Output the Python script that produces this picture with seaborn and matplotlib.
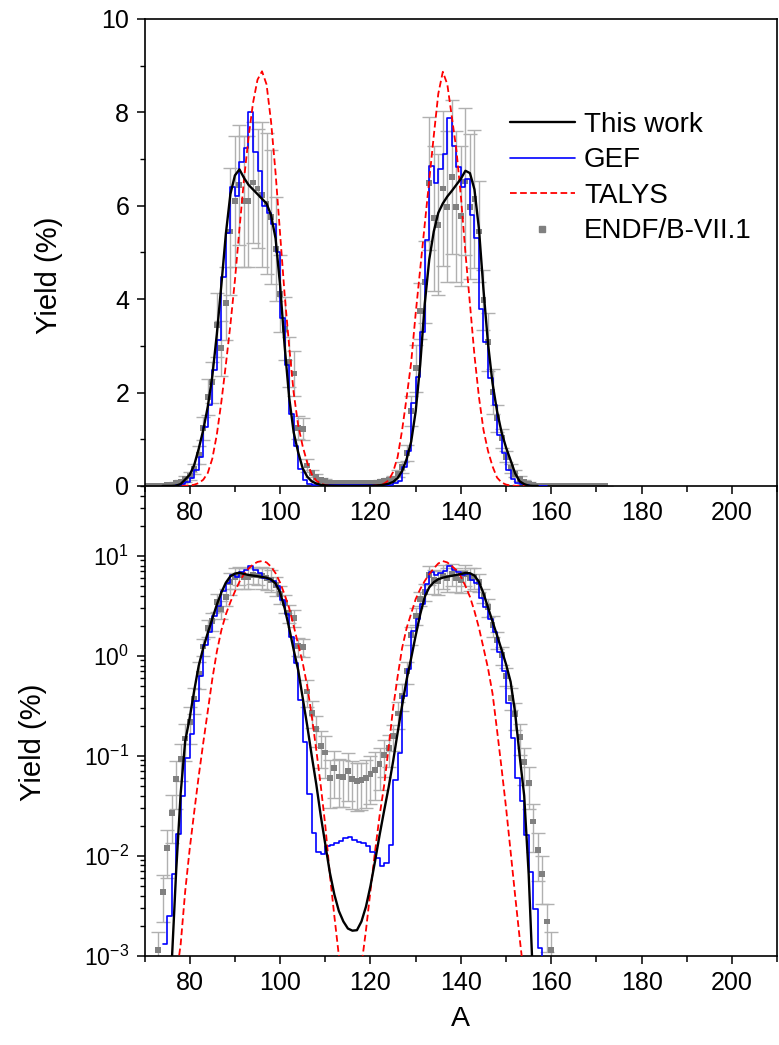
import numpy as np
import pandas as pd
import matplotlib
matplotlib.use("Agg")
import matplotlib.pyplot as plt
import seaborn as sns
from matplotlib.ticker import MultipleLocator, LogLocator, NullFormatter, FixedLocator
from matplotlib.lines import Line2D

# ---------------- data ----------------
# This work (smooth curve)
tw_A = list(range(74, 158))
tw_Y = [0.00005, 0.0002, 0.0008, 0.007, 0.042, 0.14, 0.24, 0.45, 0.8, 1.2,
        1.7, 2.35, 3.25, 4.3, 5.4, 6.25, 6.65, 6.78, 6.6, 6.45,
        6.35, 6.25, 6.15, 6.05, 5.8, 5.3, 4.3, 3.0, 1.9, 1.15,
        0.72, 0.38, 0.2, 0.1, 0.052, 0.025, 0.013, 0.0068, 0.0041, 0.0028,
        0.0022, 0.00187, 0.00178, 0.0018, 0.0022, 0.0031, 0.005, 0.0088, 0.016, 0.028,
        0.048, 0.088, 0.17, 0.32, 0.58, 0.95, 1.6, 2.6, 3.9, 4.85,
        5.45, 5.85, 6.05, 6.2, 6.32, 6.45, 6.58, 6.75, 6.7, 6.35,
        5.5, 4.2, 3.05, 2.2, 1.6, 1.15, 0.82, 0.55, 0.27, 0.1,
        0.04, 0.0065, 0.0005, 0.00005]

# GEF (histogram, bin start A)
gef_A = list(range(74, 160))
gef_Y = [0.0013, 0.0025, 0.0065, 0.0166, 0.04, 0.095, 0.165, 0.35, 0.63, 1.27,
         1.73, 2.48, 3.13, 4.48, 5.41, 6.41, 6.2, 6.93, 7.24, 8.0,
         7.16, 6.75, 6.0, 5.85, 5.6, 5.0, 3.6, 2.6, 1.55, 0.85,
         0.36, 0.137, 0.041, 0.017, 0.011, 0.0105, 0.0125, 0.0128, 0.0135, 0.014,
         0.015, 0.0155, 0.0145, 0.0138, 0.0135, 0.0126, 0.011, 0.0095, 0.0079, 0.0085,
         0.0129, 0.057, 0.106, 0.4, 0.74, 1.77, 2.34, 3.30, 5.27, 6.86,
         6.49, 6.78, 7.11, 7.87, 7.28, 6.84, 6.41, 6.57, 5.80, 5.30,
         3.80, 3.09, 2.31, 1.73, 1.09, 0.70, 0.34, 0.15, 0.06, 0.035,
         0.016, 0.0068, 0.0029, 0.0012, 0.0005, 0.0003]

# TALYS (smooth dashed curve)
ta_A = list(range(76, 156))
ta_Y = [0.0002, 0.0006, 0.0013, 0.0044, 0.0117, 0.0275, 0.063, 0.135, 0.28, 0.585,
        1.1, 1.8, 2.6, 3.45, 4.4, 5.5, 6.55, 7.45, 8.2, 8.7,
        8.88, 8.6, 7.8, 6.7, 5.4, 4.1, 3.0, 2.0, 1.3, 0.85,
        0.5, 0.25, 0.115, 0.05, 0.02, 0.0065, 0.0025, 0.001, 0.0004, 0.00018,
        0.00015, 0.0003, 0.0008, 0.0018, 0.0045, 0.011, 0.025, 0.05, 0.12, 0.3,
        0.62, 1.2, 1.9, 2.65, 3.7, 4.65, 5.6, 6.55, 7.5, 8.4,
        8.87, 8.6, 7.9, 7.2, 6.2, 5.0, 3.9, 2.8, 1.9, 1.2,
        0.75, 0.42, 0.18, 0.075, 0.03, 0.011, 0.004, 0.0015, 0.0006, 0.0002]

# ENDF/B-VII.1 (points with error bars)
endf_A = list(range(70, 173))
endf_Y = [0.00012, 0.00025, 0.0005, 0.00115, 0.0043, 0.012, 0.027, 0.059, 0.093, 0.149,
          0.22, 0.37, 0.66, 1.24, 1.91, 2.22, 3.45, 2.95, 3.91, 5.45,
          6.1, 6.45, 6.1, 6.1, 6.5, 6.37, 6.24, 6.05, 5.76, 5.08,
          4.12, 3.37, 2.66, 2.41, 1.25, 1.22, 0.44, 0.27, 0.187, 0.126,
          0.108, 0.060, 0.075, 0.062, 0.061, 0.071, 0.059, 0.056, 0.057, 0.060,
          0.066, 0.072, 0.083, 0.102, 0.12, 0.158, 0.265, 0.40, 0.70, 1.61,
          2.52, 3.74, 4.37, 6.48, 5.73, 5.59, 6.37, 5.98, 6.62, 5.98,
          5.78, 6.52, 5.98, 6.14, 5.45, 3.98, 3.09, 2.02, 1.45, 1.02,
          0.63, 0.38, 0.26, 0.155, 0.086, 0.053, 0.022, 0.0113, 0.0066, 0.0022,
          0.00115, 0.0005, 0.0003, 0.0002, 0.00012, 0.00008, 0.00005, 0.00003, 0.00002, 0.00001,
          0.000007, 0.000005, 0.000003]
endf_rel = [0.5, 0.5, 0.5, 0.5, 0.5, 0.5, 0.5, 0.5, 0.4, 0.4,
            0.4, 0.3, 0.3, 0.2, 0.2, 0.2, 0.2, 0.2, 0.2, 0.25,
            0.23, 0.2, 0.23, 0.23, 0.2, 0.2, 0.25, 0.25, 0.25, 0.22,
            0.2, 0.2, 0.2, 0.2, 0.2, 0.2, 0.3, 0.3, 0.35, 0.4,
            0.45, 0.5, 0.5, 0.5, 0.5, 0.5, 0.5, 0.5, 0.5, 0.5,
            0.5, 0.5, 0.45, 0.4, 0.35, 0.3, 0.3, 0.3, 0.25, 0.2,
            0.2, 0.16, 0.2, 0.22, 0.27, 0.27, 0.26, 0.27, 0.25, 0.27,
            0.26, 0.24, 0.26, 0.24, 0.2, 0.16, 0.2, 0.24, 0.2, 0.2,
            0.2, 0.25, 0.3, 0.35, 0.4, 0.45, 0.5, 0.5, 0.5, 0.5,
            0.5, 0.5, 0.5, 0.5, 0.5, 0.5, 0.5, 0.5, 0.5, 0.5,
            0.5, 0.5, 0.5]

labels = ["This work", "GEF", "TALYS", "ENDF/B-VII.1"]

# ---------------- style ----------------
sns.set_theme(style="ticks")
plt.rcParams['font.family'] = ['Liberation Sans', 'DejaVu Sans']
plt.rcParams['mathtext.default'] = 'regular'
plt.rcParams['axes.linewidth'] = 1.2
for k in ['text.color', 'axes.labelcolor', 'xtick.color', 'ytick.color', 'axes.edgecolor']:
    plt.rcParams[k] = 'black'

DASH = (3.7, 1.9)

df_tw = pd.DataFrame({"A": tw_A, "Y": tw_Y})
df_gef = pd.DataFrame({"A": gef_A, "Y": gef_Y})
df_ta = pd.DataFrame({"A": ta_A, "Y": ta_Y})
df_endf = pd.DataFrame({"A": endf_A, "Y": endf_Y, "rel": endf_rel})
df_endf["err"] = df_endf["Y"] * df_endf["rel"]

fig = plt.figure(figsize=(7.79, 10.45), dpi=100)
left, width = 0.1855, 0.8123
ax1 = fig.add_axes([left, 0.53493, width, 0.44689])
ax2 = fig.add_axes([left, 0.08545, width, 0.44947])
ax1.set_zorder(3)
ax1.patch.set_visible(False)

def draw(ax):
    ax.errorbar(df_endf["A"], df_endf["Y"], yerr=df_endf["err"], fmt='none',
                ecolor='#b0b0b0', elinewidth=1.0, capsize=5, capthick=1.0, zorder=1)
    sns.scatterplot(data=df_endf, x="A", y="Y", ax=ax, marker='s', s=18,
                    color='#808080', edgecolor='none', zorder=2, legend=False)
    sns.lineplot(data=df_gef, x="A", y="Y", ax=ax, color='#0000ff', lw=1.2,
                 drawstyle='steps-post', zorder=3, legend=False)
    sns.lineplot(data=df_ta, x="A", y="Y", ax=ax, color='#ff0000', lw=1.3,
                 dashes=DASH, zorder=4, legend=False)
    sns.lineplot(data=df_tw, x="A", y="Y", ax=ax, color='black', lw=1.7,
                 zorder=5, legend=False)
    ax.set_xlim(70, 210)
    ax.xaxis.set_major_locator(MultipleLocator(20))
    ax.xaxis.set_minor_locator(MultipleLocator(10))
    ax.tick_params(axis='x', which='major', direction='out', length=6, width=1.1,
                   labelsize=18, pad=5, top=False, colors='black')
    ax.tick_params(axis='x', which='minor', direction='out', length=4, width=1.1, top=False,
                   colors='black')
    ax.tick_params(axis='y', which='major', direction='out', length=6, width=1.1,
                   labelsize=18, pad=5, right=False, colors='black')
    ax.tick_params(axis='y', which='minor', direction='out', length=3.5, width=1.0, right=False,
                   colors='black')
    for s in ax.spines.values():
        s.set_linewidth(1.2)
        s.set_color('black')
    ax.set_xlabel("")

draw(ax1)
draw(ax2)

ax1.set_ylim(0, 10)
ax1.yaxis.set_major_locator(MultipleLocator(2))
ax1.yaxis.set_minor_locator(MultipleLocator(1))
ax1.set_ylabel("Yield (%)", fontsize=21, color='black')
ax1.yaxis.set_label_coords(-0.129, 0.452)

ax2.set_yscale('log')
ax2.set_ylim(1e-3, 50)
ax2.yaxis.set_major_locator(FixedLocator([1e-3, 1e-2, 1e-1, 1e0, 1e1]))
ax2.yaxis.set_minor_locator(LogLocator(base=10, subs=np.arange(2, 10), numticks=20))
ax2.yaxis.set_minor_formatter(NullFormatter())
ax2.tick_params(axis='y', which='major', labelsize=16.5)
ax2.spines['top'].set_visible(False)
ax2.set_ylabel("Yield (%)", fontsize=21, color='black')
ax2.yaxis.set_label_coords(-0.1546, 0.454)
ax2.set_xlabel("A", fontsize=20.5, color='black')
ax2.xaxis.set_label_coords(0.5, -0.108)

handles = [Line2D([], [], color='black', lw=1.7),
           Line2D([], [], color='#0000ff', lw=1.2),
           Line2D([], [], color='#ff0000', lw=1.3, dashes=DASH),
           Line2D([], [], color='#808080', marker='s', ms=4.5, lw=0)]
ax1.legend(handles, labels, loc='upper left', bbox_to_anchor=(0.5776, 0.801),
           frameon=False, fontsize=20, labelspacing=0.34, handlelength=2.34,
           handletextpad=0.32, borderpad=0, borderaxespad=0, labelcolor='black')

fig.savefig("out.png", dpi=100)
